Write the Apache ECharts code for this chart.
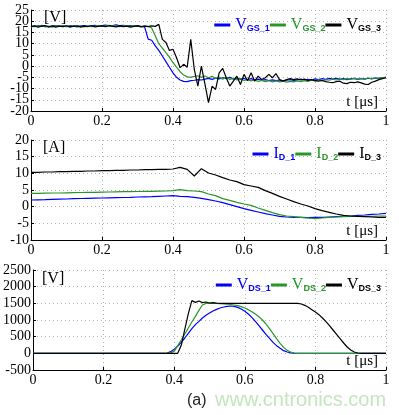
<!DOCTYPE html>
<html>
<head>
<meta charset="utf-8">
<script src="https://cdn.jsdelivr.net/npm/echarts@6/dist/echarts.min.js"></script>
<style>
html, body { margin: 0; padding: 0; background: #fff; }
#chart { width: 399px; height: 415px; }
</style>
</head>
<body>
<div id="chart"></div>
<script>
// sample times in microseconds
var tFine = [];
for (var i = 0; i <= 100; i++) tFine.push(i / 100);
var tCoarse = [];
for (var j = 0; j <= 50; j++) tCoarse.push(j / 50);

// tick labels of the top panel (split in two so the packed labels all show)
var gsTicksA = [25, 15, 5, -5, -15];
var gsTicksB = [20, 10, 0, -10, -20];

// gate-source voltage [V], step 0.01 us
var vgs1 = [
  17.8, 17.6, 18.0, 17.7, 17.9, 17.5, 17.8, 18.1, 17.7, 17.9,
  17.6, 18.0, 17.8, 17.5, 17.9, 18.1, 17.7, 17.9, 18.2, 17.8,
  18.0, 18.3, 17.9, 18.1, 18.4, 18.0, 18.2, 17.9, 18.1, 17.8,
  18.0, 17.7, 17.5, 12.0, 11.5, 9.0, 7.0, 4.5, 2.0, -0.5,
  -3.0, -5.0, -6.2, -6.8, -6.9, -6.5, -6.3, -6.0, -6.2, -5.8,
  -5.5, -5.9, -5.4, -5.7, -5.2, -5.6, -5.0, -5.8, -5.3, -5.9,
  -5.5, -6.0, -5.6, -6.2, -5.8, -6.3, -6.0, -6.4, -6.1, -6.5,
  -6.2, -6.6, -6.3, -6.0, -6.4, -6.1, -5.8, -6.2, -5.9, -6.3,
  -5.7, -6.0, -5.6, -5.9, -5.5, -5.8, -5.4, -5.9, -5.6, -6.0,
  -5.7, -5.5, -5.9, -5.6, -5.8, -5.4, -5.7, -5.3, -5.5, -5.2,
  -5.0
];
var vgs2 = [
  17.4, 17.9, 17.6, 18.2, 17.5, 17.8, 17.3, 17.9, 18.0, 17.6,
  17.8, 17.4, 18.1, 17.7, 17.9, 17.5, 18.0, 17.6, 17.8, 18.1,
  17.7, 17.9, 18.2, 17.8, 18.0, 17.6, 17.9, 18.1, 17.7, 18.0,
  17.8, 17.6, 17.9, 17.7, 17.0, 13.5, 10.0, 8.0, 6.0, 4.0,
  1.5, -0.5, -2.5, -4.0, -4.8, -5.0, -4.6, -4.3, -5.0, -4.4,
  -5.2, -4.5, -5.5, -4.8, -5.8, -5.0, -6.0, -5.3, -6.2, -5.6,
  -6.4, -6.0, -6.6, -6.2, -6.8, -6.4, -6.9, -6.5, -7.0, -6.6,
  -7.0, -6.7, -7.1, -6.8, -7.0, -6.6, -6.9, -6.5, -6.8, -6.3,
  -6.6, -6.1, -6.5, -6.0, -6.3, -5.8, -6.2, -5.7, -6.0, -5.6,
  -5.9, -5.5, -5.8, -5.4, -5.7, -5.3, -5.6, -5.2, -5.5, -5.1,
  -5.0
];
var vgs3 = [
  17.6, 17.9, 17.3, 17.8, 18.0, 17.5, 17.9, 17.4, 17.8, 17.6,
  18.0, 17.5, 17.7, 17.9, 17.4, 17.8, 17.6, 18.0, 17.5, 17.7,
  17.9, 17.6, 18.0, 17.7, 17.5, 17.9, 17.6, 17.8, 17.4, 17.7,
  17.9, 17.5, 17.8, 17.6, 17.9, 17.7, 18.6, 11.9, 10.5, 7.0,
  7.5, 3.7, -0.7, 0.8, -0.5, 11.9, -1.5, -8.9, 0.0, -8.0,
  -16.3, -9.0, -10.4, -3.0, -1.0, -5.2, -8.9, -6.7, -4.5, -8.2,
  -3.7, -6.5, -3.0, -6.7, -4.5, -6.0, -5.2, -3.7, -5.2, -3.3,
  -6.0, -6.7, -6.0, -5.5, -6.0, -5.7, -6.2, -5.8, -6.4, -6.0,
  -6.5, -6.7, -6.4, -6.9, -7.2, -7.4, -6.9, -6.7, -7.6, -7.8,
  -7.2, -7.4, -7.0, -7.5, -8.0, -8.2, -7.2, -6.7, -6.0, -5.6,
  -5.2
];

// drain current [A], step 0.02 us
var id1 = [
  2.0, 2.05, 2.1, 2.2, 2.25, 2.3, 2.4, 2.45, 2.5, 2.55,
  2.6, 2.65, 2.7, 2.75, 2.8, 2.9, 2.95, 3.0, 3.1, 3.2,
  3.3, 3.1, 3.0, 2.8, 2.5, 2.1, 1.7, 1.2, 0.6, 0.0,
  -0.6, -1.1, -1.6, -2.1, -2.5, -2.9, -3.1, -3.2, -3.2, -3.3,
  -3.2, -3.2, -3.1, -3.0, -2.9, -2.8, -2.6, -2.5, -2.3, -2.2,
  -2.0
];
var id2 = [
  4.0, 4.0, 4.05, 4.1, 4.1, 4.15, 4.2, 4.25, 4.3, 4.3,
  4.35, 4.4, 4.45, 4.5, 4.5, 4.55, 4.6, 4.6, 4.65, 4.7,
  4.8, 5.1, 4.8, 4.7, 4.5, 3.8, 3.3, 2.4, 1.9, 1.3,
  0.8, 0.4, -0.4, -1.1, -1.8, -2.4, -2.8, -3.0, -3.2, -3.4,
  -3.6, -3.4, -3.2, -3.1, -3.0, -2.9, -2.9, -2.9, -2.9, -2.8,
  -2.8
];
var id3 = [
  10.3, 10.3, 10.4, 10.4, 10.5, 10.5, 10.6, 10.6, 10.7, 10.7,
  10.8, 10.8, 10.9, 10.9, 11.0, 11.0, 11.1, 11.1, 11.2, 11.2,
  11.3, 11.8, 11.2, 9.2, 11.4, 10.1, 9.5, 8.7, 8.0, 7.5,
  6.6, 6.2, 5.8, 4.8, 4.0, 3.1, 2.3, 1.5, 0.8, 0.2,
  -0.6, -1.2, -1.7, -2.2, -2.6, -2.8, -2.9, -3.0, -3.1, -3.2,
  -3.2
];

// drain-source voltage [V], step 0.01 us
var vds1 = [
  0, 0, 0, 0, 0, 0, 0, 0, 0, 0,
  0, 0, 0, 0, 0, 0, 0, 0, 0, 0,
  0, 0, 0, 0, 0, 0, 0, 0, 0, 0,
  0, 0, 0, 0, 0, 0, 0, 0, 10, 50,
  120, 220, 330, 460, 600, 740, 860, 960, 1060, 1140,
  1210, 1270, 1320, 1360, 1390, 1410, 1420, 1410, 1380, 1330,
  1260, 1180, 1080, 960, 830, 700, 570, 450, 330, 230,
  150, 80, 40, 15, 5, 0, 0, 0, 0, 0,
  0, 0, 0, 0, 0, 0, 0, 0, 0, 0,
  0, 0, 0, 0, 0, 0, 0, 0, 0, 0,
  0
];
var vds2 = [
  0, 0, 0, 0, 0, 0, 0, 0, 0, 0,
  0, 0, 0, 0, 0, 0, 0, 0, 0, 0,
  0, 0, 0, 0, 0, 0, 0, 0, 0, 0,
  0, 0, 0, 0, 0, 0, 0, 0, 0, 20,
  60, 230, 400, 580, 760, 940, 1110, 1290, 1450, 1500,
  1500, 1500, 1495, 1490, 1485, 1475, 1465, 1450, 1430, 1400,
  1360, 1310, 1250, 1180, 1100, 1000, 880, 740, 590, 440,
  300, 180, 90, 35, 10, 0, 0, 0, 0, 0,
  0, 0, 0, 0, 0, 0, 0, 0, 0, 0,
  0, 0, 0, 0, 0, 0, 0, 0, 0, 0,
  0
];
var vds3 = [
  0, 0, 0, 0, 0, 0, 0, 0, 0, 0,
  0, 0, 0, 0, 0, 0, 0, 0, 0, 0,
  0, 0, 0, 0, 0, 0, 0, 0, 0, 0,
  0, 0, 0, 0, 0, 0, 0, 0, 0, 0,
  0, 0, 240, 720, 1190, 1580, 1530, 1570, 1520, 1540,
  1510, 1520, 1505, 1500, 1500, 1500, 1500, 1500, 1500, 1500,
  1500, 1500, 1500, 1500, 1500, 1500, 1500, 1500, 1500, 1500,
  1500, 1500, 1500, 1500, 1500, 1500, 1480, 1440, 1380, 1310,
  1240, 1160, 1060, 950, 830, 700, 570, 440, 310, 190,
  100, 40, 10, 0, 0, 0, 0, 0, 0, 0,
  0
];

var blue = '#0000ff', green = '#2a962a', black = '#000000';
var serif = 'Liberation Serif', sans = 'Liberation Sans';

function pairs(t, v) {
  return t.map(function (x, k) { return [x, v[k]]; });
}

var dots = {show: true, lineStyle: {color: '#b4b4b4', width: 1, type: [1, 3]}};

function xAxis(idx) {
  return {
    type: 'value', gridIndex: idx, min: 0, max: 1, interval: 0.2,
    name: 't [\u03bcs]', nameLocation: 'end', nameGap: -8,
    nameTextStyle: {fontFamily: serif, fontSize: 15, color: '#000', align: 'right', verticalAlign: 'bottom', padding: [0, 0, 1, 0]},
    axisLine: {onZero: false, lineStyle: {color: '#000', width: 1}},
    axisTick: {inside: true, length: 3, lineStyle: {color: '#000'}},
    axisLabel: {fontFamily: serif, fontSize: 14, color: '#000', margin: 3,
      showMinLabel: true, showMaxLabel: true},
    splitLine: dots
  };
}

function yAxis(idx, min, max, step, labels) {
  var ax = {
    type: 'value', gridIndex: idx, position: 'left', offset: 0,
    min: min, max: max, interval: step,
    axisLine: {show: true, lineStyle: {color: '#000', width: 1}},
    axisTick: {show: true, inside: true, length: 3, lineStyle: {color: '#000'}},
    axisLabel: {fontFamily: serif, fontSize: 14, color: '#000', margin: 2,
      showMinLabel: true, showMaxLabel: true,
      formatter: function (v) { return String(v); }},
    splitLine: dots
  };
  if (labels) ax.axisLabel.customValues = labels;
  return ax;
}

// second label-only axis on the top panel
var gsLabelAxis = yAxis(0, -20, 25, 5, gsTicksB);
gsLabelAxis.axisLine = {show: false};
gsLabelAxis.axisTick = {show: false};
gsLabelAxis.splitLine = {show: false};

function legend(names, top) {
  var cols = [blue, green, black];
  return {
    top: top, right: 13, itemGap: 0, itemWidth: 16, itemHeight: 3, icon: 'rect',
    data: names.map(function (n, k) { return {name: n, textStyle: {color: cols[k]}}; }),
    formatter: function (name) { return '{m|' + name.charAt(0) + '}{s|' + name.slice(1) + '}'; },
    textStyle: {
      rich: {
        m: {fontFamily: serif, fontSize: 16},
        s: {fontFamily: sans, fontWeight: 'bold', fontSize: 9, padding: [7, 0, 0, 0]}
      }
    }
  };
}

function line(name, idx, t, v, color) {
  return {
    name: name, type: 'line', xAxisIndex: idx, yAxisIndex: idx,
    data: pairs(t, v), symbol: 'none', showSymbol: false,
    lineStyle: {color: color, width: 1.2}, itemStyle: {color: color}
  };
}

var chart = echarts.init(document.getElementById('chart'));
chart.setOption({
  animation: false,
  backgroundColor: '#fff',
  grid: [
    {left: 31, right: 13, top: 10, height: 101},
    {left: 31, right: 13, top: 140, height: 100},
    {left: 31, right: 13, top: 270, height: 100}
  ],
  xAxis: [xAxis(0), xAxis(1), xAxis(2)],
  yAxis: [
    yAxis(0, -20, 25, 5, gsTicksA),
    yAxis(1, -10, 20, 5),
    yAxis(2, -500, 2500, 500),
    gsLabelAxis
  ],
  legend: [
    legend(['VGS_1', 'VGS_2', 'VGS_3'], 12),
    legend(['ID_1', 'ID_2', 'ID_3'], 141),
    legend(['VDS_1', 'VDS_2', 'VDS_3'], 272)
  ],
  graphic: [
    {type: 'text', left: 44, top: 10, style: {text: '[V]', font: '16px "Liberation Serif"', fill: '#000'}},
    {type: 'text', left: 43, top: 140, style: {text: '[A]', font: '16px "Liberation Serif"', fill: '#000'}},
    {type: 'text', left: 42, top: 271, style: {text: '[V]', font: '16px "Liberation Serif"', fill: '#000'}},
    {type: 'text', left: 187, top: 393, style: {text: '(a)', font: '16px "Liberation Sans"', fill: '#222'}},
    {type: 'text', left: 215, top: 390, style: {text: 'www.cntronics.com', font: '20px "Liberation Sans"', fill: '#c3e6bd'}}
  ],
  series: [
    line('VGS_1', 0, tFine, vgs1, blue),
    line('VGS_2', 0, tFine, vgs2, green),
    line('VGS_3', 0, tFine, vgs3, black),
    line('ID_1', 1, tCoarse, id1, blue),
    line('ID_2', 1, tCoarse, id2, green),
    line('ID_3', 1, tCoarse, id3, black),
    line('VDS_1', 2, tFine, vds1, blue),
    line('VDS_2', 2, tFine, vds2, green),
    line('VDS_3', 2, tFine, vds3, black)
  ]
});
</script>
</body>
</html>
